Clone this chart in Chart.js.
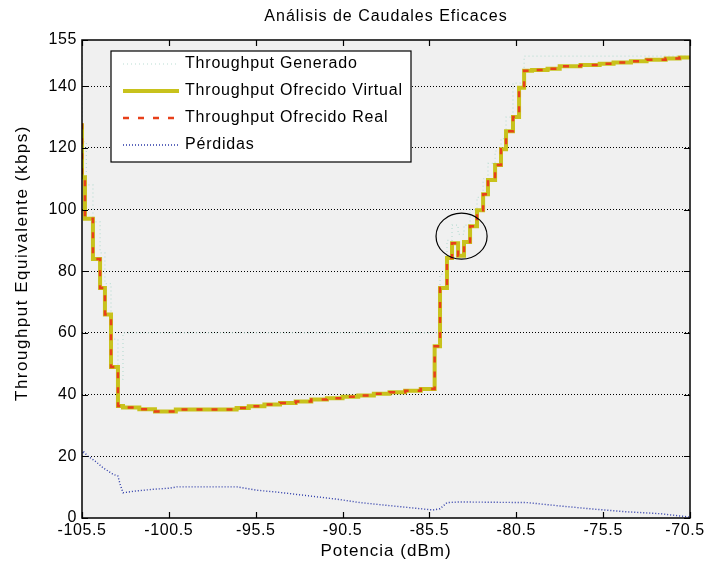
<!DOCTYPE html>
<html>
<head>
<meta charset="utf-8">
<script src="https://cdn.jsdelivr.net/npm/chart.js@4.4.0/dist/chart.umd.min.js"></script>
<style>
  html, body { margin: 0; padding: 0; background: #fff; }
  canvas { display: block; }
</style>
</head>
<body>
<canvas id="caudales" width="707" height="565"></canvas>
<script>
// Análisis de caudales eficaces: throughput vs potencia recibida

// Throughput ofrecido (virtual y real coinciden), puntos de cambio de escalón
const potencia = [
  -105.5, -105.33, -104.87, -104.46, -104.18, -103.83, -103.43, -103.14,
  -102.2, -101.3, -100.1, -96.6, -95.9, -95.0, -94.1, -93.2, -92.3, -91.4,
  -90.5, -89.6, -88.7, -87.8, -86.9, -86.0, -85.2,
  -84.89, -84.49, -84.2, -83.85, -83.51, -83.16, -82.76, -82.41, -82.13,
  -81.72, -81.38, -81.09, -80.69, -80.34, -80.05, -79.59,
  -78.7, -78.0, -76.8, -75.7, -74.9, -73.9, -73.0, -71.9, -71.1, -70.5
];
const ofrecidoVirtual = [
  128, 110.5, 97, 84, 74.6, 66, 49, 36.3,
  35.8, 35.3, 34.5, 35.2, 35.7, 36.2, 36.8, 37.3, 37.8, 38.4,
  38.8, 39.3, 39.7, 40.3, 40.8, 41.3, 41.8,
  55.7, 74.6, 84.3, 89.1, 85, 89.5, 94.6, 99.8, 105,
  109.6, 114.5, 119.6, 125.4, 130, 139.5, 145,
  145.3, 145.7, 146.5, 146.9, 147.3, 147.7, 148.1, 148.6, 149, 149.3
];
const ofrecidoReal = ofrecidoVirtual.slice();

// Throughput generado
const potenciaGen = [
  -105.5, -105.25, -104.87, -104.46, -104.18, -103.83, -103.43, -103.14,
  -84.89, -84.49, -84.2, -83.85, -83.51, -83.16, -82.76, -82.41, -82.13,
  -81.72, -81.38, -81.09, -80.69, -80.05, -79.59, -70.5
];
const generado = [
  150, 122, 108, 96, 86, 76, 58, 45,
  60, 79, 90, 95, 92, 95, 100, 104, 110,
  115, 119, 123, 130, 141, 149.8, 149.8
];

// Pérdidas
const potenciaPerd = [
  -105.5, -105.44, -105.15, -104.75, -104.29, -103.72, -103.43, -103.31, -103.14,
  -102.33, -101.41, -100.43, -100.03, -96.58, -95.43, -94.27, -92.78, -90.82,
  -89.5, -87.6, -85.29, -84.89, -84.49, -83.74, -79.88, -77.98, -76.08,
  -74.12, -72.22, -70.5
];
const perdidas = [
  20, 21.7, 20, 18.5, 16.3, 14.2, 13.6, 11, 8.2,
  8.8, 9.3, 9.7, 10.1, 10.1, 9, 8.4, 7.4, 6.1,
  5, 3.9, 2.6, 3.0, 5, 5.2, 5, 3.9, 2.9,
  2, 1.4, 0.3
];

const xTicks = [-105.5, -100.5, -95.5, -90.5, -85.5, -80.5, -75.5, -70.5];
const yTicks = [0, 20, 40, 60, 80, 100, 120, 140, 155];

const titulo = 'Análisis de Caudales Eficaces';
const tituloX = 'Potencia (dBm)';
const tituloY = 'Throughput Equivalente (kbps)';

// zona marcada con el círculo (coordenadas de datos)
const marca = { x: -83.65, y: 91.4, rx: 1.47, ry: 7.46 };

const FONT = '"Liberation Sans", Arial, sans-serif';
Chart.defaults.font.family = FONT;
Chart.defaults.font.size = 16;
Chart.defaults.color = '#000';

function pts(xs, ys) {
  return xs.map((x, i) => ({ x: x, y: ys[i] }));
}

const decor = {
  id: 'decor',
  beforeLayout(chart) { chart.ctx.letterSpacing = '0.6px'; },
  beforeDraw(chart) {
    const ctx = chart.ctx, a = chart.chartArea;
    ctx.letterSpacing = '0.6px';
    ctx.save();
    ctx.fillStyle = '#fff';
    ctx.fillRect(0, 0, chart.width, chart.height);
    ctx.fillStyle = '#f0f0f0';
    ctx.fillRect(a.left, a.top, a.right - a.left, a.bottom - a.top);
    ctx.restore();
  },
  afterDraw(chart) {
    const ctx = chart.ctx, a = chart.chartArea;
    const xs = chart.scales.x, ys = chart.scales.y;
    ctx.save();

    // marco
    ctx.strokeStyle = '#000';
    ctx.lineWidth = 1.5;
    ctx.strokeRect(a.left, a.top, a.right - a.left, a.bottom - a.top);

    // marcas de escala hacia dentro
    ctx.lineWidth = 1.2;
    ctx.beginPath();
    xTicks.forEach(v => {
      const px = Math.round(xs.getPixelForValue(v)) + 0.5;
      ctx.moveTo(px, a.bottom); ctx.lineTo(px, a.bottom - 6);
      ctx.moveTo(px, a.top); ctx.lineTo(px, a.top + 6);
    });
    yTicks.forEach(v => {
      const py = Math.round(ys.getPixelForValue(v)) + 0.5;
      ctx.moveTo(a.left, py); ctx.lineTo(a.left + 6, py);
      ctx.moveTo(a.right, py); ctx.lineTo(a.right - 6, py);
    });
    ctx.stroke();

    // círculo
    const cx = xs.getPixelForValue(marca.x), cy = ys.getPixelForValue(marca.y);
    const rx = Math.abs(xs.getPixelForValue(marca.x + marca.rx) - cx);
    const ry = Math.abs(ys.getPixelForValue(marca.y + marca.ry) - cy);
    ctx.lineWidth = 1.2;
    ctx.beginPath();
    ctx.ellipse(cx, cy, rx, ry, 0, 0, Math.PI * 2);
    ctx.stroke();

    // títulos
    ctx.fillStyle = '#000';
    ctx.textAlign = 'center';
    ctx.textBaseline = 'middle';
    ctx.font = '16px ' + FONT;
    ctx.letterSpacing = '1px';
    ctx.fillText(titulo, (a.left + a.right) / 2, 17);
    ctx.font = '17px ' + FONT;
    ctx.fillText(tituloX, (a.left + a.right) / 2, 551);
    ctx.save();
    ctx.letterSpacing = '1.5px';
    ctx.translate(22, 263);
    ctx.rotate(-Math.PI / 2);
    ctx.fillText(tituloY, 0, 0);
    ctx.restore();

    // leyenda
    const lx = a.left + 29, ly = a.top + 11, lw = 300, lh = 111;
    ctx.fillStyle = '#fff';
    ctx.fillRect(lx, ly, lw, lh);
    ctx.strokeStyle = '#000';
    ctx.lineWidth = 1.2;
    ctx.strokeRect(lx, ly, lw, lh);
    ctx.font = '16px ' + FONT;
    ctx.letterSpacing = '0.8px';
    ctx.textAlign = 'left';
    chart.data.datasets.forEach((ds, i) => {
      const yy = ly + 13 + i * 27;
      ctx.save();
      ctx.strokeStyle = ds.borderColor;
      ctx.lineWidth = ds.borderWidth;
      ctx.setLineDash(ds.borderDash || []);
      ctx.beginPath();
      ctx.moveTo(lx + 12, yy); ctx.lineTo(lx + 68, yy);
      ctx.stroke();
      ctx.restore();
      ctx.fillStyle = '#000';
      ctx.fillText(ds.label, lx + 74, yy);
    });
    ctx.restore();
  }
};

new Chart(document.getElementById('caudales'), {
  type: 'line',
  data: {
    datasets: [
      {
        label: 'Throughput Generado',
        data: pts(potenciaGen, generado),
        borderColor: '#b9ddd3',
        borderWidth: 1.2,
        borderDash: [1, 3],
        stepped: 'after',
        pointRadius: 0,
        order: 3
      },
      {
        label: 'Throughput Ofrecido Virtual',
        data: pts(potencia, ofrecidoVirtual),
        borderColor: '#c8c21c',
        borderWidth: 4,
        stepped: 'after',
        pointRadius: 0,
        order: 2
      },
      {
        label: 'Throughput Ofrecido Real',
        data: pts(potencia, ofrecidoReal),
        borderColor: '#e8401a',
        borderWidth: 2.5,
        borderDash: [6, 9],
        stepped: 'after',
        pointRadius: 0,
        order: 0
      },
      {
        label: 'Pérdidas',
        data: pts(potenciaPerd, perdidas),
        borderColor: '#2a38a8',
        borderWidth: 1.4,
        borderDash: [1, 2],
        pointRadius: 0,
        order: 1
      }
    ]
  },
  options: {
    responsive: false,
    animation: false,
    layout: { padding: { top: 40, right: 17, left: 0, bottom: 0 } },
    plugins: {
      legend: { display: false },
      tooltip: { enabled: false },
      title: { display: false }
    },
    scales: {
      x: {
        type: 'linear',
        min: -105.5,
        max: -70.5,
        afterBuildTicks: s => { s.ticks = xTicks.map(v => ({ value: v })); },
        afterFit: s => { s.height = 47; s.paddingLeft = 0; s.paddingRight = 0; },
        ticks: {
          padding: 3,
          maxRotation: 0,
          autoSkip: false,
          // la última etiqueta se desplaza un poco para que no se corte en el borde
          callback: (v, i, arr) => v.toFixed(1) + (i === arr.length - 1 ? '  ' : '')
        },
        grid: { display: false, drawTicks: false },
        border: { display: false },
        title: { display: false }
      },
      y: {
        min: 0,
        max: 155,
        afterBuildTicks: s => { s.ticks = yTicks.map(v => ({ value: v })); },
        afterFit: s => { s.width = 82; s.paddingTop = 0; s.paddingBottom = 0; },
        ticks: { padding: 5, autoSkip: false },
        grid: {
          drawTicks: false,
          color: c => (c.tick && (c.tick.value === 0 || c.tick.value === 155)) ? 'rgba(0,0,0,0)' : '#000',
          lineWidth: 1
        },
        border: { display: false, dash: [1, 2] },
        title: { display: false }
      }
    }
  },
  plugins: [decor]
});
</script>
</body>
</html>
